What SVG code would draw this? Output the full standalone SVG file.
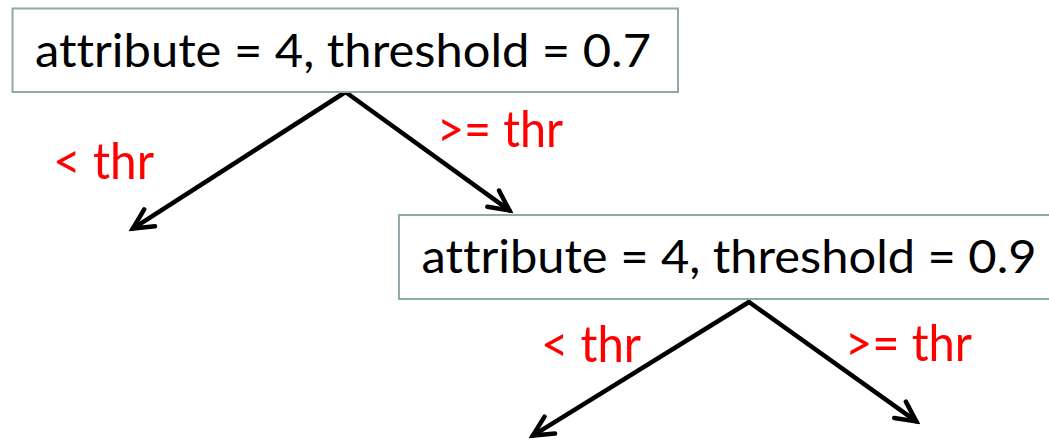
<svg xmlns="http://www.w3.org/2000/svg" width="1049" height="442" viewBox="0 0 1049 442">
<style>
text{font-variant-ligatures:none;font-feature-settings:"liga" 0,"clig" 0,"dlig" 0}
.box{fill:#ffffff;stroke:#8FAAAD;stroke-width:2}
.lbl{font-family:Lato,"Liberation Sans",sans-serif;font-size:47px;fill:#000000}
.cond{font-family:Lato,"Liberation Sans",sans-serif;font-size:50px;fill:#FF0000}
.edge{fill:none;stroke:#000000;stroke-width:4.5;stroke-linecap:round;marker-end:url(#arr)}
</style>
<defs>
<marker id="arr" markerUnits="userSpaceOnUse" viewBox="-26 -16 32 32" markerWidth="32" markerHeight="32" refX="0" refY="0" orient="auto" overflow="visible">
<path d="M-20,-10 L0,0 L-20,10" fill="none" stroke="#000000" stroke-width="4.5" stroke-linejoin="miter" stroke-linecap="round"/>
</marker>
</defs>
<rect width="1049" height="442" fill="#ffffff"/>
<g id="connectors">
<path class="edge" d="M345.5,92 L132.8,228.6"/>
<path class="edge" d="M345.5,92 L509.4,210.4"/>
<path class="edge" d="M749,302 L532.8,435.6"/>
<path class="edge" d="M749,302 L916.3,421.4"/>
</g>
<g id="node1">
<rect class="box" x="12.5" y="8.5" width="665.5" height="83.5"/>
<text class="lbl" x="35" y="67" textLength="616" lengthAdjust="spacingAndGlyphs">attribute = 4, threshold = 0.7</text>
</g>
<g id="node2">
<rect class="box" x="399" y="215" width="670" height="84"/>
<text class="lbl" x="421.5" y="273" textLength="615" lengthAdjust="spacingAndGlyphs">attribute = 4, threshold = 0.9</text>
</g>
<g id="labels">
<text class="cond" x="53" y="179" textLength="101" lengthAdjust="spacingAndGlyphs">&lt; thr</text>
<text class="cond" x="437" y="147" textLength="126" lengthAdjust="spacingAndGlyphs">&gt;= thr</text>
<text class="cond" x="541" y="362" textLength="100" lengthAdjust="spacingAndGlyphs">&lt; thr</text>
<text class="cond" x="845" y="361" textLength="127" lengthAdjust="spacingAndGlyphs">&gt;= thr</text>
</g>
</svg>
